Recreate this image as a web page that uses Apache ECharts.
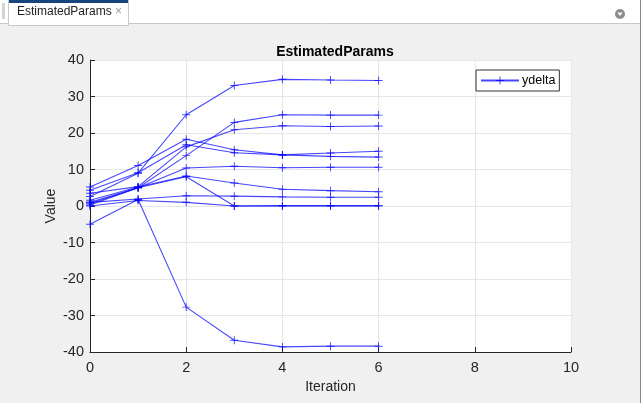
<!DOCTYPE html>
<html>
<head>
<meta charset="utf-8">
<script src="https://cdn.jsdelivr.net/npm/echarts@6/dist/echarts.min.js"></script>
<style>
html,body{margin:0;padding:0;background:#f0f0f0;}
#c{width:641px;height:403px;}
</style>
</head>
<body>
<div id="c"></div>
<script>
// ---- data ----
var iterations = [0, 1, 2, 3, 4, 5, 6];
var xTicks = [0, 2, 4, 6, 8, 10];
var yTicks = [-40, -30, -20, -10, 0, 10, 20, 30, 40];
var seriesName = 'ydelta';
var p1  = [2.6, 9.0, 25.0, 33.0, 34.7, 34.5, 34.4];
var p2  = [5.2, 11.1, 18.3, 15.4, 14.0, 14.5, 15.0];
var p3  = [4.3, 9.1, 16.8, 14.6, 14.0, 13.6, 13.4];
var p4  = [1.0, 5.0, 13.8, 22.9, 25.0, 24.9, 24.9];
var p5  = [3.5, 5.3, 16.2, 20.9, 22.0, 21.8, 21.9];
var p6  = [0.3, 5.0, 10.4, 10.9, 10.5, 10.6, 10.6];
var p7  = [1.6, 5.2, 8.2, 6.3, 4.6, 4.2, 3.9];
var p8  = [0.6, 5.0, 8.0, 0.0, 0.1, 0.1, 0.1];
var p9  = [1.0, 1.9, 2.8, 2.7, 2.5, 2.4, 2.4];
var p10 = [0.0, 1.5, 1.0, 0.0, 0.0, 0.0, 0.0];
var p11 = [-5.0, 1.8, -27.7, -36.8, -38.6, -38.4, -38.4];
var allSeries = [p1, p2, p3, p4, p5, p6, p7, p8, p9, p10, p11];

var lineColor = 'rgba(0,0,255,0.72)';
var plusPath = 'path://M0,4.4H10V5.6H0Z M4.4,0H5.6V10H4.4Z';

var series = allSeries.map(function (vals) {
  return {
    name: seriesName,
    type: 'line',
    data: iterations.map(function (x, i) { return [x, vals[i]]; }),
    symbol: plusPath,
    symbolSize: 8,
    showAllSymbol: true,
    lineStyle: { color: lineColor, width: 1.1 },
    itemStyle: { color: lineColor },
    emphasis: { disabled: true },
    animation: false
  };
});

var txt = '#262626';
var chart = echarts.init(document.getElementById('c'), null, { renderer: 'canvas' });
chart.setOption({
  backgroundColor: '#f0f0f0',
  animation: false,
  title: {
    text: 'EstimatedParams',
    left: 330, top: 40, textAlign: 'center',
    textStyle: { fontFamily: 'Liberation Sans, Arial, sans-serif', fontSize: 14, fontWeight: 'bold', color: '#000' }
  },
  legend: {
    left: 476, top: 70,
    padding: [4, 4, 4, 4],
    itemWidth: 38, itemHeight: 10, itemGap: 4,
    backgroundColor: '#fff',
    borderColor: '#333', borderWidth: 1, borderRadius: 0,
    data: [seriesName],
    textStyle: { fontFamily: 'Liberation Sans, Arial, sans-serif', fontSize: 12.5, color: '#000', padding: [0, 0, 0, -2] }
  },
  grid: {
    left: 90, right: 70, top: 60, bottom: 51,
    show: true, backgroundColor: '#fff', borderWidth: 0
  },
  xAxis: {
    type: 'value', min: 0, max: 10, interval: 2,
    name: 'Iteration', nameLocation: 'middle', nameGap: 25,
    nameTextStyle: { fontFamily: 'Liberation Sans, Arial, sans-serif', fontSize: 14, color: txt },
    axisLine: { show: true, onZero: false, lineStyle: { color: txt, width: 1 } },
    axisTick: { show: true, inside: true, length: 5, lineStyle: { color: txt } },
    axisLabel: { margin: 8, fontFamily: 'Liberation Sans, Arial, sans-serif', fontSize: 14.5, color: txt,
      formatter: function (v) { return xTicks.indexOf(v) >= 0 ? String(v) : ''; } },
    splitLine: { show: true, lineStyle: { color: '#e6e6e6', width: 1 } }
  },
  yAxis: {
    type: 'value', min: -40, max: 40, interval: 10,
    name: 'Value', nameLocation: 'middle', nameGap: 32, nameRotate: 90,
    nameMoveOverlap: false,
    nameTextStyle: { fontFamily: 'Liberation Sans, Arial, sans-serif', fontSize: 14, color: txt },
    axisLine: { show: true, onZero: false, lineStyle: { color: txt, width: 1 } },
    axisTick: { show: true, inside: true, length: 5, lineStyle: { color: txt } },
    axisLabel: { margin: 6, fontFamily: 'Liberation Sans, Arial, sans-serif', fontSize: 14.5, color: txt,
      formatter: function (v) { return yTicks.indexOf(v) >= 0 ? String(v) : ''; } },
    splitLine: { show: true, lineStyle: { color: '#e6e6e6', width: 1 } }
  },
  graphic: [
    { type: 'rect', shape: { x: 0, y: 0, width: 641, height: 23 }, style: { fill: '#ffffff' }, silent: true },
    { type: 'line', shape: { x1: 0, y1: 23.5, x2: 641, y2: 23.5 }, style: { stroke: '#c8c8c8', lineWidth: 1 }, silent: true },
    { type: 'line', shape: { x1: 640.5, y1: 0, x2: 640.5, y2: 403 }, style: { stroke: '#8a8a8a', lineWidth: 1 }, silent: true },
    { type: 'rect', shape: { x: 2, y: 3, width: 3, height: 16 }, style: { fill: '#d4d4d4' }, silent: true },
    { type: 'rect', shape: { x: 8.5, y: 0.5, width: 120, height: 25 }, style: { fill: '#ffffff', stroke: '#c8c8c8', lineWidth: 1 }, silent: true },
    { type: 'rect', shape: { x: 9, y: 0, width: 119, height: 3 }, style: { fill: '#17467e' }, silent: true },
    { type: 'text', left: 17, top: 6, style: { text: 'EstimatedParams', font: '12px "Liberation Sans", Arial, sans-serif', fill: '#222' }, silent: true },
    { type: 'text', left: 115, top: 6, style: { text: '×', font: '12px "Liberation Sans", Arial, sans-serif', fill: '#9a9a9a' }, silent: true },
    { type: 'circle', shape: { cx: 620, cy: 14, r: 5 }, style: { fill: '#8c8c8c' }, silent: true },
    { type: 'polygon', shape: { points: [[617.3, 12.5], [622.7, 12.5], [620, 16]] }, style: { fill: '#ffffff' }, silent: true }
  ],
  series: series
});
</script>
</body>
</html>
